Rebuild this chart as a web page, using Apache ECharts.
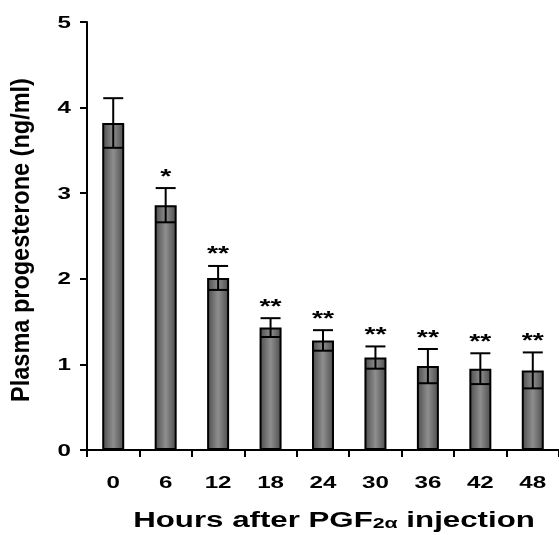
<!DOCTYPE html>
<html><head><meta charset="utf-8">
<script src="https://cdn.jsdelivr.net/npm/echarts@6/dist/echarts.min.js"></script>
<style>html,body{margin:0;padding:0;background:#fff}#c{width:559px;height:535px}</style>
</head><body><div id="c"></div>
<script>
const categories = ['0','6','12','18','24','30','36','42','48'];
const means = [3.82, 2.86, 2.01, 1.43, 1.28, 1.08, 0.98, 0.95, 0.93];
const errors = [0.29, 0.20, 0.14, 0.11, 0.12, 0.13, 0.20, 0.18, 0.21];
const marks = ['', '*', '**', '**', '**', '**', '**', '**', '**'];
const yTicks = [0, 1, 2, 3, 4, 5];
const xTitle = ['Hours after PGF', '2α', ' injection'];
const yTitle = 'Plasma progesterone (ng/ml)';

const chart = echarts.init(document.getElementById('c'));
const font = 'Liberation Sans, Arial, sans-serif';
const SX = 1.42; // horizontal stretch of the original figure's text

chart.setOption({
  animation: false,
  grid: {left: 87, right: 0, top: 22, bottom: 85, containLabel: false},
  xAxis: {
    type: 'category', data: categories,
    axisLine: {lineStyle: {color: '#000', width: 2}},
    axisTick: {show: true, alignWithLabel: false, length: 7, lineStyle: {color: '#000', width: 2}},
    axisLabel: {show: false}
  },
  yAxis: {
    type: 'value', min: 0, max: 5, interval: 1,
    axisLine: {show: true, lineStyle: {color: '#000', width: 2}},
    axisTick: {show: true, inside: false, length: 7, lineStyle: {color: '#000', width: 2}},
    splitLine: {show: false},
    axisLabel: {show: false}
  },
  graphic: [
    {
      type: 'text', x: 334, y: 519, scaleX: SX,
      style: {
        text: '{a|' + xTitle[0] + '}{s|' + xTitle[1] + '}{a|' + xTitle[2] + '}',
        align: 'center', verticalAlign: 'middle',
        rich: {
          a: {fill: '#000', fontWeight: 'bold', fontSize: 22, fontFamily: font, lineHeight: 24, verticalAlign: 'bottom'},
          s: {fill: '#000', fontWeight: 'bold', fontSize: 15, fontFamily: font, padding: [10, 0, 0, 0], verticalAlign: 'bottom'}
        }
      }
    },
    {
      type: 'text', x: 22, y: 240, rotation: Math.PI / 2, scaleY: 1.1,
      style: {text: yTitle, align: 'center', verticalAlign: 'middle', fill: '#000', font: 'bold 23.5px ' + font}
    }
  ],
  series: [
    {
      type: 'bar', data: means, barWidth: 22,
      itemStyle: {
        borderColor: '#000', borderWidth: 2,
        color: new echarts.graphic.LinearGradient(0, 0, 1, 0, [
          {offset: 0, color: '#4a4a4a'},
          {offset: 0.5, color: '#8e8e8e'},
          {offset: 1, color: '#4a4a4a'}
        ])
      }
    },
    {
      type: 'custom', clip: false, z: 10,
      data: means.map((m, i) => [i, m - errors[i], m + errors[i]]),
      renderItem: function (params, api) {
        const i = api.value(0);
        const lo = api.coord([i, api.value(1)]);
        const hi = api.coord([i, api.value(2)]);
        const x = lo[0];
        const hw = 10;
        const st = {stroke: '#000', lineWidth: 2};
        const children = [
          {type: 'line', shape: {x1: x, y1: lo[1], x2: x, y2: hi[1]}, style: st},
          {type: 'line', shape: {x1: x - hw, y1: lo[1], x2: x + hw, y2: lo[1]}, style: st},
          {type: 'line', shape: {x1: x - hw, y1: hi[1], x2: x + hw, y2: hi[1]}, style: st}
        ];
        const mk = marks[params.dataIndex];
        if (mk) {
          children.push({type: 'text', x: x, y: hi[1] - 11, scaleX: SX,
            style: {text: mk, align: 'center', verticalAlign: 'middle', fill: '#000', font: 'bold 20px ' + font}});
        }
        return {type: 'group', children: children};
      }
    },
    {
      // x tick labels
      type: 'custom', clip: false, silent: true,
      data: categories.map((c, i) => [i, 0]),
      renderItem: function (params, api) {
        const p = api.coord([api.value(0), 0]);
        return {type: 'text', x: p[0], y: p[1] + 33, scaleX: SX,
          style: {text: categories[params.dataIndex], align: 'center', verticalAlign: 'middle', fill: '#000', font: 'bold 17px ' + font}};
      }
    },
    {
      // y tick labels
      type: 'custom', clip: false, silent: true,
      data: yTicks.map(v => [0, v]),
      renderItem: function (params, api) {
        const p = api.coord([0, api.value(1)]);
        const left = params.coordSys.x;
        return {type: 'text', x: left - 16, y: p[1] + 1, scaleX: SX,
          style: {text: String(yTicks[params.dataIndex]), align: 'right', verticalAlign: 'middle', fill: '#000', font: 'bold 17px ' + font}};
      }
    }
  ]
});
</script></body></html>
